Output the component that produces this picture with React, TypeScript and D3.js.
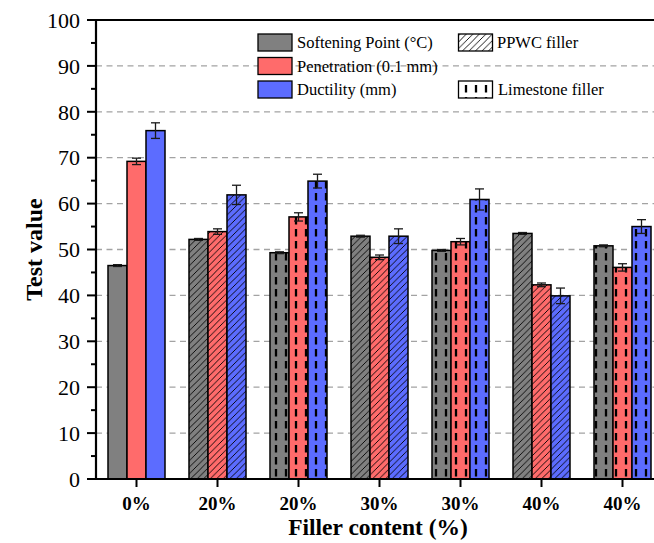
import React, { useEffect } from 'react';
import * as d3 from 'd3';

// x categories (filler content) and filler type for each group
const categories = ['0%', '20%', '20%', '30%', '30%', '40%', '40%'];
const fillers = ['none', 'ppwc', 'limestone', 'ppwc', 'limestone', 'ppwc', 'limestone'];

// series values
const softening = [46.5, 52.2, 49.3, 52.9, 49.8, 53.5, 50.8];
const softeningErr = [0.2, 0.2, 0.2, 0.2, 0.2, 0.2, 0.2];
const penetration = [69.2, 53.9, 57.1, 48.3, 51.7, 42.3, 46.1];
const penetrationErr = [0.7, 0.6, 0.9, 0.5, 0.7, 0.4, 0.8];
const ductility = [75.9, 61.9, 64.9, 52.9, 60.9, 39.9, 55.0];
const ductilityErr = [1.7, 2.1, 1.5, 1.6, 2.3, 1.7, 1.5];

const yTicks = [0, 10, 20, 30, 40, 50, 60, 70, 80, 90, 100];

const seriesNames = ['Softening Point (°C)', 'Penetration (0.1 mm)', 'Ductility (mm)'];
const seriesColors = ['#808080', '#ff6b6b', '#5c6cff'];

const W = 654;
const H = 543;
const margin = { left: 96, top: 20, right: -9, bottom: 64 };
const FONT = 'Liberation Serif';

export default function App() {
  useEffect(() => {
    document.body.style.margin = '0';
  }, []);

  const x = d3
    .scaleBand<number>()
    .domain(categories.map((_, i) => i))
    .range([margin.left, W - margin.right])
    .padding(0);
  const y = d3.scaleLinear().domain([0, 100]).range([H - margin.bottom, margin.top]);

  const barW = 19;
  const series = [
    { values: softening, errs: softeningErr },
    { values: penetration, errs: penetrationErr },
    { values: ductility, errs: ductilityErr },
  ];

  const patternFor = (f: string) =>
    f === 'ppwc' ? 'url(#hatch)' : f === 'limestone' ? 'url(#dashes)' : null;

  const minorTicks = d3.range(5, 100, 10);
  const x0 = margin.left;
  const xEnd = W + 10;
  const yBase = y(0);

  return (
    <svg width={W} height={H} style={{ display: 'block' }} fontFamily={FONT}>
      <defs>
        <pattern id="hatch" patternUnits="userSpaceOnUse" width={6.5} height={6.5}>
          <path
            d="M0,6.5 L6.5,0 M-1,1 L1,-1 M5.5,7.5 L7.5,5.5"
            stroke="#000"
            strokeWidth={0.9}
            fill="none"
          />
        </pattern>
        <pattern id="dashes" patternUnits="userSpaceOnUse" width={10} height={12} x={1}>
          <line x1={5} x2={5} y1={1} y2={8.5} stroke="#000" strokeWidth={2.3} />
        </pattern>
      </defs>

      {/* grid lines */}
      {yTicks
        .filter((t) => t > 0 && t < 100)
        .map((t) => (
          <line
            key={'g' + t}
            x1={x0}
            x2={xEnd}
            y1={y(t)}
            y2={y(t)}
            stroke="#a3a3a3"
            strokeWidth={1.3}
            strokeDasharray="6 4.5"
          />
        ))}

      {/* bars */}
      {categories.map((_, i) => {
        const cx = (x(i) ?? 0) + x.bandwidth() / 2;
        const pat = patternFor(fillers[i]);
        return (
          <g key={'grp' + i}>
            {series.map((s, j) => {
              const bx = cx - 1.5 * barW + j * barW;
              const top = y(s.values[i]);
              return (
                <g key={'b' + j}>
                  <rect x={bx} y={top} width={barW} height={yBase - top} fill={seriesColors[j]} />
                  {pat && <rect x={bx} y={top} width={barW} height={yBase - top} fill={pat} />}
                  <rect
                    x={bx}
                    y={top}
                    width={barW}
                    height={yBase - top}
                    fill="none"
                    stroke="#000"
                    strokeWidth={1.5}
                  />
                </g>
              );
            })}
          </g>
        );
      })}

      {/* error bars */}
      {categories.map((_, i) => {
        const cx = (x(i) ?? 0) + x.bandwidth() / 2;
        return series.map((s, j) => {
          const ex = cx - barW + j * barW;
          const hi = y(s.values[i] + s.errs[i]);
          const lo = y(s.values[i] - s.errs[i]);
          return (
            <g key={`e${i}-${j}`} stroke="#1a1a1a" strokeWidth={1.3}>
              <line x1={ex} x2={ex} y1={hi} y2={lo} />
              <line x1={ex - 4.5} x2={ex + 4.5} y1={hi} y2={hi} />
              <line x1={ex - 4.5} x2={ex + 4.5} y1={lo} y2={lo} />
            </g>
          );
        });
      })}

      {/* axes */}
      <line x1={x0} x2={xEnd} y1={y(100)} y2={y(100)} stroke="#000" strokeWidth={2.2} />
      <line x1={x0} x2={x0} y1={y(100) - 1} y2={yBase + 1} stroke="#000" strokeWidth={2.2} />
      <line x1={x0 - 9} x2={xEnd} y1={yBase} y2={yBase} stroke="#000" strokeWidth={2.2} />

      {yTicks.map((t) => (
        <g key={'yt' + t}>
          <line x1={x0 - 9} x2={x0} y1={y(t)} y2={y(t)} stroke="#000" strokeWidth={2} />
          <text
            x={x0 - 16}
            y={y(t)}
            dy="0.35em"
            textAnchor="end"
            fontSize={22}
            fontFamily={FONT}
            fill="#000"
          >
            {t}
          </text>
        </g>
      ))}
      {minorTicks.map((t) => (
        <line key={'mt' + t} x1={x0 - 5} x2={x0} y1={y(t)} y2={y(t)} stroke="#000" strokeWidth={2} />
      ))}

      {categories.map((c, i) => {
        const cx = (x(i) ?? 0) + x.bandwidth() / 2;
        return (
          <g key={'xt' + i}>
            <line x1={cx} x2={cx} y1={yBase} y2={yBase + 8} stroke="#000" strokeWidth={2} />
            <text
              x={cx}
              y={yBase + 31}
              textAnchor="middle"
              fontSize={19}
              fontWeight="bold"
              fontFamily={FONT}
            >
              {c}
            </text>
          </g>
        );
      })}

      <text x={378} y={535} textAnchor="middle" fontSize={23.5} fontWeight="bold" fontFamily={FONT}>
        Filler content (%)
      </text>
      <text
        transform={`translate(34,${(y(0) + y(100)) / 2}) rotate(-90)`}
        dy="0.35em"
        textAnchor="middle"
        fontSize={24}
        fontWeight="bold"
        fontFamily={FONT}
      >
        Test value
      </text>

      {/* legend */}
      {seriesNames.map((n, j) => {
        const ly = 34 + j * 23.5;
        return (
          <g key={'lg' + j}>
            <rect x={258} y={ly} width={34} height={17} fill={seriesColors[j]} stroke="#000" strokeWidth={1.3} />
            <text x={297} y={ly + 8.5} dy="0.35em" fontSize={16.5} fontFamily={FONT}>
              {n}
            </text>
          </g>
        );
      })}
      <rect x={458.5} y={34} width={34} height={17} fill="#fff" />
      <rect x={458.5} y={34} width={34} height={17} fill="url(#hatch)" stroke="#000" strokeWidth={1.3} />
      <text x={497} y={42.5} dy="0.35em" fontSize={16.5} fontFamily={FONT}>
        PPWC filler
      </text>
      <rect x={458.5} y={81} width={34} height={17} fill="#fff" />
      <rect x={458.5} y={81} width={34} height={17} fill="url(#dashes)" stroke="#000" strokeWidth={1.3} />
      <text x={498} y={89.5} dy="0.35em" fontSize={16.5} fontFamily={FONT}>
        Limestone filler
      </text>
    </svg>
  );
}
